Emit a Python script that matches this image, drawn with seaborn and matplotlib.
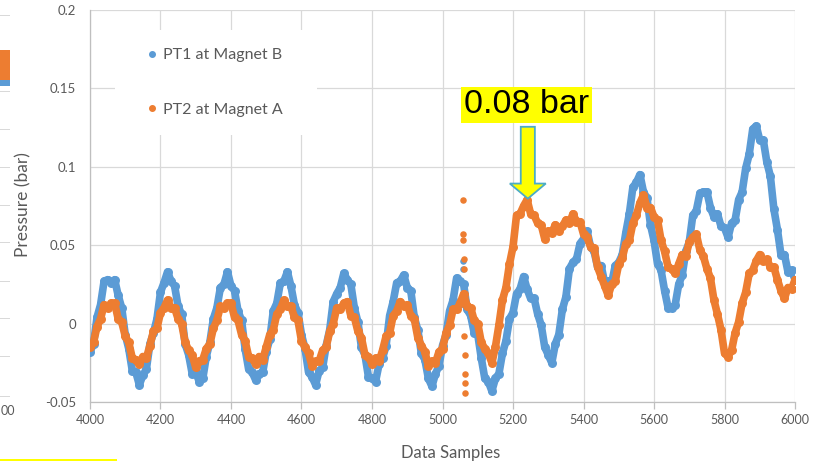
import matplotlib
matplotlib.use("Agg")
import matplotlib.pyplot as plt
import seaborn as sns
import pandas as pd
from matplotlib.patches import FancyArrow, Rectangle
from matplotlib.lines import Line2D

# ---------------- data ----------------
samples = list(range(4000, 6001, 10))

pt1_magnet_b = [
    -0.018, -0.013, 0.004, 0.012, 0.027, 0.028, 0.026, 0.028, 0.018, 0.010,
    -0.007, -0.016, -0.030, -0.031, -0.039, -0.033, -0.029, -0.013, -0.006, 0.003,
    0.020, 0.026, 0.033, 0.027, 0.024, 0.011, 0.006, -0.013, -0.020, -0.032,
    -0.031, -0.037, -0.035, -0.021, -0.012, 0.003, 0.010, 0.023, 0.025, 0.033,
    0.024, 0.021, 0.008, 0.002, -0.016, -0.029, -0.031, -0.036, -0.032, -0.031,
    -0.018, -0.010, 0.008, 0.013, 0.026, 0.027, 0.033, 0.024, 0.012, 0.007,
    -0.007, -0.016, -0.031, -0.034, -0.039, -0.030, -0.028, -0.014, -0.004, 0.014,
    0.019, 0.023, 0.032, 0.028, 0.025, 0.010, 0.001, -0.015, -0.020, -0.034,
    -0.035, -0.037, -0.026, -0.022, -0.014, 0.005, 0.014, 0.026, 0.027, 0.031,
    0.023, 0.021, 0.004, -0.004, -0.019, -0.023, -0.035, -0.040, -0.032, -0.027,
    -0.014, -0.007, 0.008, 0.015, 0.029, 0.027,
    0.025, 0.009, 0.005, -0.006, -0.007, -0.022, -0.035, -0.037, -0.043, -0.035,
    -0.032, -0.019, -0.011, 0.003, 0.007, 0.019, 0.022, 0.030, 0.022, 0.016,
    0.016, 0.006, -0.001, -0.015, -0.020, -0.025, -0.013, -0.007, 0.009, 0.017,
    0.035, 0.039, 0.041, 0.051, 0.054, 0.059, 0.049, 0.046, 0.036, 0.037,
    0.026, 0.027, 0.026, 0.037, 0.039, 0.044, 0.058, 0.070, 0.087, 0.090,
    0.095, 0.084, 0.080, 0.063, 0.053, 0.038, 0.034, 0.021, 0.010, 0.010,
    0.012, 0.025, 0.031, 0.046, 0.052, 0.069, 0.072, 0.083, 0.084, 0.084,
    0.074, 0.068, 0.070, 0.062, 0.061, 0.055, 0.064, 0.066, 0.079, 0.084,
    0.099, 0.108, 0.124, 0.126, 0.117, 0.117, 0.103, 0.094, 0.073, 0.060,
    0.044, 0.044, 0.033, 0.034, 0.028,
]

pt2_magnet_a = [
    -0.015, -0.012, -0.002, 0.003, 0.012, 0.010, 0.013, 0.013, 0.003, 0.001,
    -0.008, -0.012, -0.022, -0.023, -0.026, -0.021, -0.022, -0.014, -0.005, -0.003,
    0.007, 0.010, 0.015, 0.010, 0.010, 0.003, 0.000, -0.012, -0.017, -0.020,
    -0.028, -0.024, -0.023, -0.016, -0.013, -0.003, 0.002, 0.011, 0.010, 0.013,
    0.013, 0.004, 0.002, -0.007, -0.011, -0.021, -0.022, -0.026, -0.021, -0.023,
    -0.015, -0.007, -0.004, 0.006, 0.009, 0.015, 0.011, 0.011, 0.004, 0.002,
    -0.011, -0.015, -0.019, -0.027, -0.024, -0.024, -0.017, -0.015, -0.005, 0.000,
    0.010, 0.009, 0.013, 0.014, 0.005, 0.004, -0.005, -0.009, -0.020, -0.021,
    -0.026, -0.022, -0.024, -0.017, -0.008, -0.006, 0.005, 0.008, 0.014, 0.011,
    0.012, 0.005, 0.003, -0.009, -0.014, -0.018, -0.027, -0.024, -0.025, -0.018,
    -0.016, -0.006, -0.001, 0.009, 0.009, 0.013,
    0.019, 0.011, 0.010, 0.002, 0.000, -0.012, -0.016, -0.019, -0.025, -0.015,
    -0.001, 0.015, 0.023, 0.038, 0.049, 0.069, 0.070, 0.075, 0.079, 0.070,
    0.069, 0.064, 0.063, 0.054, 0.059, 0.058, 0.063, 0.059, 0.062, 0.066,
    0.064, 0.070, 0.065, 0.065, 0.057, 0.055, 0.049, 0.048, 0.036, 0.030,
    0.024, 0.018, 0.025, 0.027, 0.038, 0.042, 0.051, 0.053, 0.064, 0.069,
    0.077, 0.082, 0.074, 0.074, 0.068, 0.066, 0.053, 0.046, 0.036, 0.035,
    0.032, 0.038, 0.044, 0.043, 0.052, 0.055, 0.057, 0.047, 0.043, 0.035,
    0.029, 0.015, 0.006, -0.004, -0.019, -0.021, -0.017, -0.006, 0.001, 0.013,
    0.020, 0.032, 0.034, 0.040, 0.044, 0.040, 0.041, 0.036, 0.036, 0.028,
    0.021, 0.016, 0.023, 0.022, 0.028,
]

# scattered readings near sample 5060
pt2_spike_x = [5057, 5058, 5059, 5060, 5060, 5062, 5063, 5064, 5064, 5065]
pt2_spike_y = [0.079, 0.057, 0.053, 0.041, 0.035, -0.008, -0.020, -0.032, -0.038, -0.044]
pt1_spike_x = [5057, 5059, 5061]
pt1_spike_y = [0.040, 0.035, 0.012]

series_names = ["PT1 at Magnet B", "PT2 at Magnet A"]
x_ticks = [4000, 4200, 4400, 4600, 4800, 5000, 5200, 5400, 5600, 5800, 6000]
y_ticks = [-0.05, 0, 0.05, 0.1, 0.15, 0.2]
y_tick_labels = ["-0.05", "0", "0.05", "0.1", "0.15", "0.2"]
note_text = "0.08 bar"
note_x, note_y = 5242, 0.0797

# ---------------- style ----------------
sns.set_theme(style="white")
plt.rcParams['font.family'] = ['Lato', 'DejaVu Sans']

BLUE = "#5B9BD5"
ORANGE = "#ED7D31"
GRID = "#D9D9D9"
TXT = "#595959"

fig = plt.figure(figsize=(8.15, 4.62), dpi=100)
fig.patch.set_facecolor("white")
ax = fig.add_axes([0.1104, 0.1299, 0.8651, 0.8485])

df1 = pd.DataFrame({"x": samples, "y": pt1_magnet_b})
df2 = pd.DataFrame({"x": samples, "y": pt2_magnet_a})

for df, col, sx, sy in [(df1, BLUE, pt1_spike_x, pt1_spike_y),
                        (df2, ORANGE, pt2_spike_x, pt2_spike_y)]:
    sns.lineplot(data=df, x="x", y="y", ax=ax, color=col, lw=5.5,
                 solid_capstyle="round", solid_joinstyle="round", zorder=3)
    sns.scatterplot(data=df, x="x", y="y", ax=ax, color=col, s=42,
                    linewidth=0, zorder=3)
    sns.scatterplot(x=sx, y=sy, ax=ax, color=col, s=22, linewidth=0, zorder=3)

ax.set_xlim(4000, 6000)
ax.set_ylim(-0.05, 0.2)
ax.set_xticks(x_ticks)
ax.set_xticklabels([str(v) for v in x_ticks])
ax.set_yticks(y_ticks)
ax.set_yticklabels(y_tick_labels)
ax.set_axisbelow(True)
ax.grid(True, color=GRID, lw=0.9)
for s in ["top", "right"]:
    ax.spines[s].set_visible(False)
for s in ["left", "bottom"]:
    ax.spines[s].set_color("#BFBFBF")
    ax.spines[s].set_linewidth(0.9)
ax.tick_params(axis="x", direction="out", length=5, width=0.9, color="#BFBFBF",
               labelsize=9, labelcolor=TXT, pad=4, bottom=True)
ax.tick_params(axis="y", length=0, labelsize=9.5, labelcolor=TXT, pad=10)

ax.set_xlabel("Data Samples", fontsize=12, color=TXT)
ax.set_ylabel("Pressure (bar)", fontsize=12.5, color=TXT)
ax.xaxis.set_label_coords(0.512, -0.110)
ax.yaxis.set_label_coords(-0.0835, 0.5026)

# white legend area (hides the gridline behind the legend)
ax.add_patch(Rectangle(((115 - 90) / 705, (402 - 135) / 392),
                       (317 - 115) / 705, (135 - 30) / 392,
                       transform=ax.transAxes, fc="white", ec="none", zorder=1.5))
handles = [Line2D([], [], marker="o", ls="none", color=BLUE, markersize=4),
           Line2D([], [], marker="o", ls="none", color=ORANGE, markersize=4)]
leg = ax.legend(handles, series_names, loc="upper left",
                bbox_to_anchor=((148 - 90) / 705, (402 - 48) / 392),
                borderaxespad=0, frameon=False,
                fontsize=11.5, labelspacing=2.55, handlelength=0.5,
                handletextpad=0.45, borderpad=0)
for t in leg.get_texts():
    t.set_color(TXT)

# annotation arrow and label
arrow = FancyArrow(note_x, 0.1255, 0, note_y - 0.1255, width=40,
                   head_width=102, head_length=0.0096,
                   length_includes_head=True, fc="#FFFF00", ec="#4BACC6",
                   lw=1.3, zorder=6, clip_on=False)
ax.add_patch(arrow)
ax.text(note_x - 4, 0.1395, note_text, ha="center", va="center", fontsize=24.5,
        family=["Liberation Sans", "DejaVu Sans"], color="black", zorder=7,
        bbox=dict(boxstyle="square,pad=0.08", fc="#FFFF00", ec="none"))

# cropped neighbouring chart remnants at the left edge
for py in [16, 92, 130, 168, 206, 243, 282, 319, 357, 397]:
    fig.add_artist(Rectangle((0, 1 - py / 462), 10 / 815, 1.2 / 462,
                             transform=fig.transFigure, color=GRID, lw=0))
fig.add_artist(Rectangle((0, 1 - 86 / 462), 10 / 815, 14 / 462,
                         transform=fig.transFigure, color=BLUE, lw=0))
fig.add_artist(Rectangle((0, 1 - 80 / 462), 10 / 815, 30 / 462,
                         transform=fig.transFigure, color=ORANGE, lw=0))
fig.text(0.5 / 815, 1 - 411 / 462, "00", ha="left", va="center",
         fontsize=9, color=TXT)
fig.add_artist(Rectangle((0, 1 - 461 / 462), 117 / 815, 2 / 462,
                         transform=fig.transFigure, color="#FFFF00", lw=0))

fig.savefig("out.png", dpi=100)
